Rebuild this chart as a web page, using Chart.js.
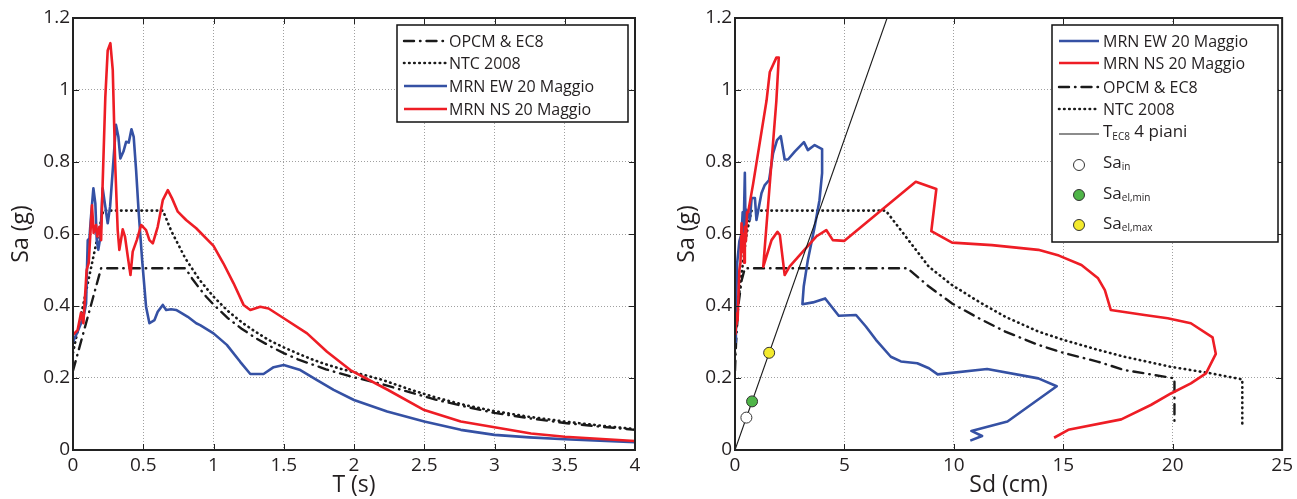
<!DOCTYPE html>
<html><head><meta charset="utf-8">
<script src="https://cdn.jsdelivr.net/npm/chart.js@4.4.1/dist/chart.umd.min.js"></script>
<style>
html,body{margin:0;padding:0;background:#fff;}
#c1{position:absolute;left:0;top:0;}
#c2{position:absolute;left:650px;top:0;}
</style></head><body>
<canvas id="c1" width="650" height="499"></canvas>
<canvas id="c2" width="647" height="499"></canvas>
<script>
// ---------- tick labels ----------
const periodTicks = [0, 0.5, 1, 1.5, 2, 2.5, 3, 3.5, 4];
const accelTicks = [0, 0.2, 0.4, 0.6, 0.8, 1, 1.2];
const dispTicks = [0, 5, 10, 15, 20, 25];

// ---------- series names ----------
const seriesNames = ['OPCM & EC8', 'NTC 2008', 'MRN EW 20 Maggio', 'MRN NS 20 Maggio'];

// ---------- left panel: Sa(T) ----------
const ewT = [0,0.033,0.057,0.08,0.093,0.105,0.117,0.128,0.145,0.159,0.169,0.18,0.195,0.211,0.23,0.247,0.264,0.283,0.306,0.323,0.337,0.359,0.378,0.397,0.416,0.432,0.449,0.468,0.492,0.52,0.544,0.58,0.603,0.639,0.663,0.698,0.734,0.77,0.817,0.877,0.905,1.0,1.095,1.19,1.262,1.356,1.428,1.5,1.618,1.737,1.855,2.0,2.236,2.5,2.76,3.0,3.25,3.5,4.0];
const ewSa = [0.30,0.329,0.352,0.38,0.407,0.583,0.588,0.648,0.727,0.685,0.583,0.556,0.593,0.727,0.676,0.63,0.676,0.778,0.903,0.87,0.81,0.829,0.856,0.854,0.891,0.87,0.778,0.657,0.528,0.398,0.352,0.361,0.384,0.403,0.389,0.391,0.389,0.381,0.37,0.352,0.347,0.324,0.292,0.245,0.211,0.211,0.23,0.236,0.222,0.194,0.167,0.139,0.107,0.079,0.056,0.042,0.035,0.03,0.022];

const nsT = [0,0.033,0.057,0.074,0.097,0.112,0.135,0.147,0.164,0.173,0.188,0.2,0.211,0.23,0.247,0.266,0.283,0.3,0.318,0.33,0.354,0.37,0.39,0.409,0.425,0.454,0.485,0.52,0.544,0.568,0.603,0.639,0.675,0.705,0.746,0.805,0.877,1.0,1.071,1.143,1.214,1.262,1.333,1.392,1.5,1.666,1.808,1.974,2.236,2.5,2.76,3.0,3.26,3.5,4.0];
const nsSa = [0.32,0.333,0.381,0.352,0.5,0.52,0.68,0.603,0.625,0.593,0.62,0.583,0.74,0.98,1.11,1.13,1.055,0.797,0.611,0.556,0.613,0.593,0.537,0.486,0.551,0.583,0.625,0.611,0.583,0.574,0.62,0.694,0.722,0.699,0.662,0.639,0.616,0.567,0.518,0.463,0.403,0.389,0.398,0.393,0.366,0.324,0.273,0.222,0.168,0.111,0.079,0.063,0.046,0.037,0.025];

const ec8T = [0,0.2,0.8,0.85,0.9,0.95,1.0,1.1,1.2,1.3,1.4,1.5,1.6,1.7,1.8,1.9,2.0,2.2,2.4,2.6,2.8,3.0,3.25,3.5,3.75,4.0];
const ec8Sa = [0.22,0.505,0.505,0.475,0.449,0.425,0.404,0.367,0.337,0.311,0.289,0.269,0.252,0.238,0.224,0.213,0.202,0.183,0.16,0.138,0.12,0.103,0.088,0.075,0.065,0.056];

const ntcT = [0,0.215,0.64,0.7,0.8,0.9,1.0,1.1,1.2,1.3,1.4,1.5,1.6,1.7,1.8,1.9,2.0,2.2,2.4,2.6,2.8,3.0,3.25,3.5,3.75,4.0];
const ntcSa = [0.27,0.665,0.665,0.608,0.532,0.473,0.426,0.387,0.355,0.328,0.304,0.285,0.268,0.252,0.238,0.226,0.216,0.195,0.168,0.144,0.124,0.108,0.092,0.079,0.068,0.058];

// ---------- right panel: Sa(Sd) ----------
const ewSd2 = [0.02,0.04,0.07,0.1,0.2,0.3,0.35,0.38,0.45,0.48,0.53,0.68,0.76,0.91,0.98,1.21,1.36,1.56,1.74,1.92,2.09,2.27,2.42,2.73,3.15,3.33,3.64,3.98,3.98,3.86,3.64,3.33,3.14,3.08,3.56,4.12,4.74,5.53,5.98,6.44,7.12,7.58,8.33,8.86,9.26,11.52,13.86,14.7,12.45,10.8,11.29,10.75];
const ewSa2 = [0.30,0.36,0.45,0.52,0.58,0.60,0.66,0.57,0.77,0.62,0.667,0.64,0.70,0.70,0.639,0.713,0.736,0.75,0.824,0.861,0.872,0.807,0.807,0.829,0.855,0.833,0.847,0.836,0.769,0.694,0.62,0.528,0.454,0.405,0.41,0.421,0.373,0.375,0.343,0.306,0.259,0.246,0.241,0.227,0.21,0.225,0.199,0.177,0.079,0.053,0.039,0.026];

const nsSd2 = [0.02,0.05,0.08,0.12,0.2,0.25,0.3,0.33,0.38,0.42,0.45,0.5,0.55,0.6,0.83,1.44,1.59,1.89,2.0,1.89,1.29,1.67,1.94,2.05,2.27,2.5,3.71,4.17,4.47,5.0,8.26,9.2,8.97,9.92,11.74,13.86,14.8,15.83,16.59,16.9,17.17,18.71,19.77,20.83,21.82,21.97,21.52,20.83,19.92,19.0,17.65,15.23,14.58];
const nsSa2 = [0.32,0.35,0.38,0.36,0.5,0.52,0.63,0.55,0.6,0.52,0.62,0.58,0.66,0.66,0.74,0.97,1.05,1.09,1.09,0.97,0.509,0.583,0.606,0.597,0.486,0.51,0.593,0.611,0.583,0.581,0.745,0.725,0.608,0.576,0.569,0.556,0.54,0.514,0.477,0.444,0.389,0.375,0.366,0.352,0.313,0.267,0.213,0.185,0.157,0.125,0.085,0.056,0.034];

const ec8Sd2 = [0,0.05,0.15,0.3,0.45,7.88,8.86,9.92,11.14,12.35,13.86,15.0,16.6,17.8,19.0,20.08,20.08];
const ec8Sa2 = [0.22,0.30,0.40,0.47,0.505,0.505,0.454,0.407,0.366,0.329,0.292,0.27,0.245,0.222,0.21,0.199,0.065];

const ntcSd2 = [0,0.08,0.3,0.53,0.71,0.76,6.89,7.8,8.86,9.92,11.14,12.35,13.86,15.0,16.6,17.8,19.92,21.74,23.18,23.18];
const ntcSa2 = [0.27,0.38,0.49,0.60,0.653,0.665,0.665,0.593,0.509,0.458,0.412,0.37,0.329,0.306,0.278,0.259,0.231,0.213,0.196,0.069];

const periodLineSd = [0, 6.95];
const periodLineSa = [0, 1.2];
const periodLineName = ['T', 'EC8', ' 4 piani'];

const markerNames = ['in', 'el,min', 'el,max'];
const markerSd = [0.52, 0.78, 1.56];
const markerSa = [0.09, 0.135, 0.27];

// ---------- helpers ----------
const FONT = '"Open Sans", "Liberation Sans", sans-serif';
const TXT = '#231f20';
const BLUE = '#3551a4', RED = '#ee1d25', BLK = '#1a1a1a';
const pts = (xs, ys) => xs.map((v, i) => ({x: v, y: ys[i]}));

function lineDs(label, data, color, width, dash, order) {
  return {label, data, showLine: true, borderColor: color, backgroundColor: color,
    borderWidth: width, borderDash: dash, borderCapStyle: dash.length ? 'round' : 'butt',
    borderJoinStyle: 'round', pointRadius: 0, pointHoverRadius: 0, tension: 0, fill: false, order};
}

function axis(ticks, min, max, titleText, isY, size, titlePad) {
  return {
    type: 'linear', min, max,
    afterBuildTicks: s => { s.ticks = ticks.map(v => ({value: v})); },
    afterFit: s => { if (isY) s.width = size; else s.height = size; },
    grid: {color: '#a0a0a0', lineWidth: 1, drawTicks: false},
    border: {display: false, dash: [1, 2]},
    ticks: {padding: isY ? 3 : 4, color: TXT, font: {family: FONT, size: 19}, callback: v => String(v)},
    title: {display: true, text: titleText, color: TXT, font: {family: FONT, size: 23},
      padding: isY ? {top: titlePad, bottom: 0} : {top: 0, bottom: titlePad}}
  };
}

const framePlugin = {
  id: 'frame',
  afterDatasetsDraw(chart) {
    const {ctx, chartArea: a, scales: {x, y}} = chart;
    ctx.save();
    ctx.setLineDash([]);
    ctx.strokeStyle = '#222';
    ctx.lineWidth = 1;
    ctx.beginPath();
    x.ticks.forEach(t => {
      const p = Math.round(x.getPixelForValue(t.value)) + 0.5;
      ctx.moveTo(p, a.bottom); ctx.lineTo(p, a.bottom - 6);
      ctx.moveTo(p, a.top); ctx.lineTo(p, a.top + 6);
    });
    y.ticks.forEach(t => {
      const p = Math.round(y.getPixelForValue(t.value)) + 0.5;
      ctx.moveTo(a.left, p); ctx.lineTo(a.left + 6, p);
      ctx.moveTo(a.right, p); ctx.lineTo(a.right - 6, p);
    });
    ctx.stroke();
    ctx.lineWidth = 2;
    ctx.strokeRect(a.left, a.top, a.right - a.left, a.bottom - a.top);
    ctx.restore();
  }
};

function drawRich(ctx, x, base, parts) {
  let cx = x;
  ctx.fillStyle = TXT;
  ctx.textBaseline = 'alphabetic';
  ctx.textAlign = 'left';
  parts.forEach(p => {
    ctx.font = p[1] + 'px ' + FONT;
    ctx.fillText(p[0], cx, base + (p[2] || 0));
    cx += ctx.measureText(p[0]).width;
  });
}

function legendPlugin(cfg) {
  return {
    id: 'legendBox',
    afterDraw(chart) {
      const ctx = chart.ctx;
      const [x0, y0, x1, y1] = cfg.box;
      ctx.save();
      ctx.fillStyle = '#fff';
      ctx.fillRect(x0, y0, x1 - x0, y1 - y0);
      ctx.setLineDash([]);
      ctx.lineWidth = 1.5; ctx.strokeStyle = '#111';
      ctx.strokeRect(x0, y0, x1 - x0, y1 - y0);
      cfg.rows.forEach(r => {
        const ds = chart.data.datasets[r.index];
        if (r.point === undefined) {
          ctx.save();
          ctx.strokeStyle = ds.borderColor; ctx.lineWidth = ds.borderWidth;
          ctx.setLineDash(ds.borderDash); ctx.lineCap = ds.borderCapStyle;
          ctx.beginPath(); ctx.moveTo(cfg.lx0, r.y); ctx.lineTo(cfg.lx1, r.y); ctx.stroke();
          ctx.restore();
        } else {
          ctx.save();
          ctx.setLineDash([]);
          ctx.beginPath(); ctx.arc(cfg.mx, r.y, ds.pointRadius, 0, 2 * Math.PI);
          ctx.fillStyle = ds.pointBackgroundColor[r.point]; ctx.fill();
          ctx.lineWidth = ds.pointBorderWidth; ctx.strokeStyle = ds.pointBorderColor; ctx.stroke();
          ctx.restore();
        }
        drawRich(ctx, cfg.tx, r.base, r.parts);
      });
      ctx.restore();
    }
  };
}

const common = {
  responsive: false, animation: false, devicePixelRatio: 1, events: [],
  plugins: {legend: {display: false}, tooltip: {enabled: false}}
};

// ---------- chart 1 ----------
new Chart(document.getElementById('c1'), {
  type: 'scatter',
  data: {datasets: [
    lineDs(seriesNames[3], pts(nsT, nsSa), RED, 2.6, [], 0),
    lineDs(seriesNames[2], pts(ewT, ewSa), BLUE, 2.6, [], 1),
    lineDs(seriesNames[0], pts(ec8T, ec8Sa), BLK, 2.4, [10, 6, 0.5, 6], 3),
    lineDs(seriesNames[1], pts(ntcT, ntcSa), BLK, 2.6, [0.5, 4.6], 2)
  ]},
  options: Object.assign({}, common, {
    layout: {padding: {left: 0, top: 18, right: 15, bottom: 0}},
    scales: {
      x: axis(periodTicks, 0, 4, 'T (s)', false, 49, 0),
      y: axis(accelTicks, 0, 1.2, 'Sa (g)', true, 73, 8)
    }
  }),
  plugins: [framePlugin, legendPlugin({
    box: [397, 25, 628, 122], lx0: 404, lx1: 447, tx: 449,
    rows: [
      {index: 2, y: 41, base: 47, parts: [[seriesNames[0], 16]]},
      {index: 3, y: 63, base: 69, parts: [[seriesNames[1], 16]]},
      {index: 1, y: 86, base: 92, parts: [[seriesNames[2], 16]]},
      {index: 0, y: 109, base: 115, parts: [[seriesNames[3], 16]]}
    ]
  })]
});

// ---------- chart 2 ----------
new Chart(document.getElementById('c2'), {
  type: 'scatter',
  data: {datasets: [
    lineDs(seriesNames[2], pts(ewSd2, ewSa2), BLUE, 2.6, [], 4),
    lineDs(seriesNames[3], pts(nsSd2, nsSa2), RED, 2.6, [], 3),
    lineDs(seriesNames[0], pts(ec8Sd2, ec8Sa2), BLK, 2.4, [10, 6, 0.5, 6], 5),
    lineDs(seriesNames[1], pts(ntcSd2, ntcSa2), BLK, 2.6, [0.5, 4.6], 6),
    lineDs(periodLineName.join(''), pts(periodLineSd, periodLineSa), BLK, 1.1, [], 2),
    {label: 'Sa', data: pts(markerSd, markerSa), showLine: false, order: 0,
     pointRadius: 5.5, pointHoverRadius: 5.5, pointBorderWidth: 1, pointBorderColor: '#333',
     pointBackgroundColor: ['#ffffff', '#4fb548', '#f3ea2c']}
  ]},
  options: Object.assign({}, common, {
    layout: {padding: {left: 0, top: 18, right: 12, bottom: 0}},
    scales: {
      x: axis(dispTicks, 0, 25, 'Sd (cm)', false, 49, 0),
      y: axis(accelTicks, 0, 1.2, 'Sa (g)', true, 85, 24)
    }
  }),
  plugins: [framePlugin, legendPlugin({
    box: [402, 25, 628, 242], lx0: 409, lx1: 449, tx: 453, mx: 429,
    rows: [
      {index: 0, y: 41, base: 47, parts: [[seriesNames[2], 16]]},
      {index: 1, y: 63, base: 69, parts: [[seriesNames[3], 16]]},
      {index: 2, y: 87, base: 93, parts: [[seriesNames[0], 16]]},
      {index: 3, y: 109, base: 115, parts: [[seriesNames[1], 16]]},
      {index: 4, y: 134, base: 137, parts: [[periodLineName[0], 17], [periodLineName[1], 10, 3], [periodLineName[2], 17]]},
      {index: 5, point: 0, y: 165, base: 168, parts: [['Sa', 17], [markerNames[0], 10, 2]]},
      {index: 5, point: 1, y: 195, base: 199, parts: [['Sa', 17], [markerNames[1], 10, 2]]},
      {index: 5, point: 2, y: 225, base: 229, parts: [['Sa', 17], [markerNames[2], 10, 2]]}
    ]
  })]
});
</script>
</body></html>
